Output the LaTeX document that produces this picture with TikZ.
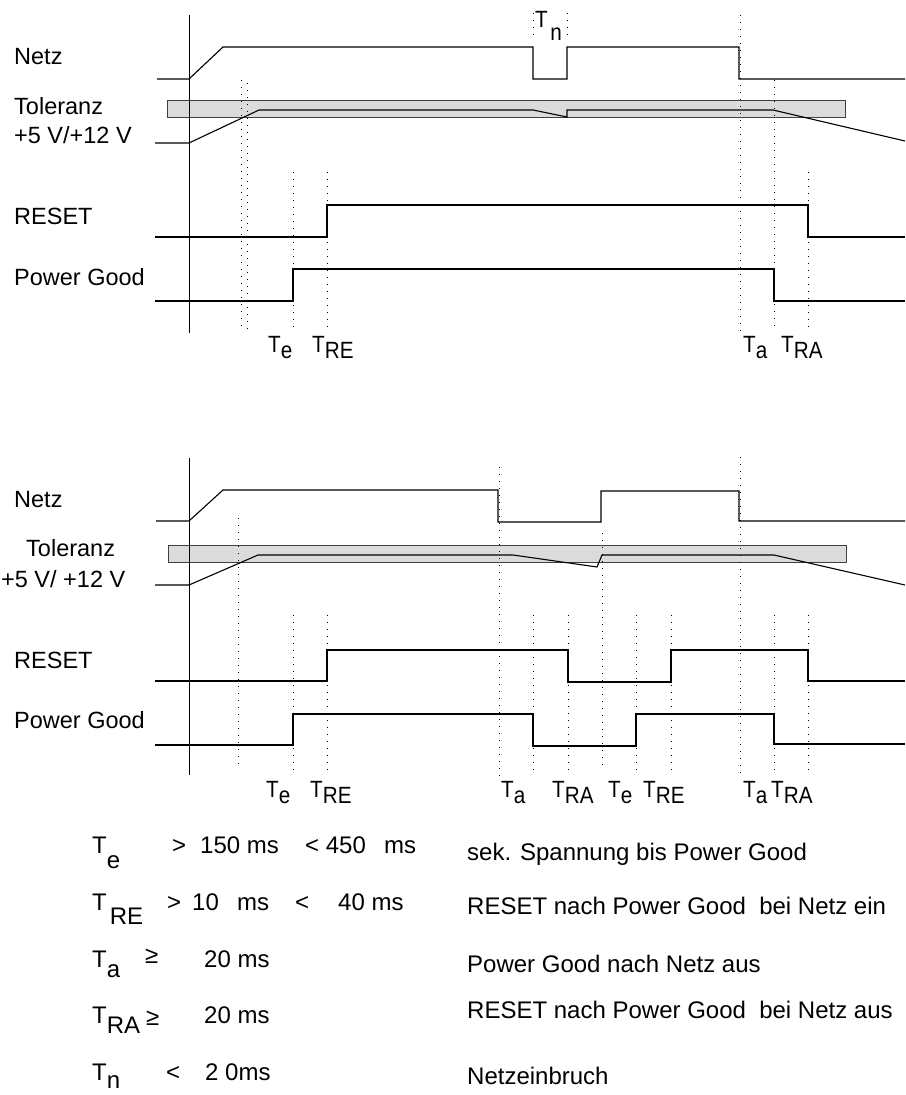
\documentclass[tikz,border=0pt]{standalone}
\usepackage{fontspec}
\setmainfont{Liberation Sans}
\usetikzlibrary{fit}
\newcommand\lowsub[2]{\raisebox{-#1pt}{#2}}
\newcommand\narrowtxt[1]{\scalebox{0.88}[1]{#1}}
\tikzset{
 sig/.style={line width=1.1pt, line join=miter},
 dotv/.style={line width=1pt, dash pattern=on 1pt off 6pt},
 band/.style={fill=black!14, draw=black!75, line width=0.9pt},
 lbl/.style={anchor=base west, inner sep=0pt, font=\fontsize{23.5}{28}\selectfont},
 tl/.style={anchor=base west, inner sep=0pt, font=\fontsize{23.5}{28}\selectfont},
 tab/.style={anchor=base west, inner sep=0pt, font=\fontsize{24}{28}\selectfont},
}
\begin{document}
\begin{tikzpicture}[x=1pt,y=-1pt]
\useasboundingbox (0,0) rectangle (905,1095);

% ================= TOP DIAGRAM =================
\node[band, inner sep=0pt, fit={(167,100)(845,117)}] (bandA) {};
% axis
\coordinate (axAt) at (189,15); \coordinate (axAb) at (189,333);
\draw[line width=0.9pt] (axAt) -- (axAb);
% dotted verticals
\foreach \x/\a/\b [count=\i] in {241/80/330, 247/83/333, 293/172/330, 327/172/330, 533/13/40, 567/13/40, 740/15/332, 774/80/326, 808/172/330}
  {\coordinate (dA\i t) at (\x,\a); \coordinate (dA\i b) at (\x,\b); \draw[dotv] (dA\i t) -- (dA\i b);}
% Netz
\draw[sig] (157,79) -- (189,79) -- (223,47) -- (533,47) -- (533,79) -- (567,79) -- (567,47) -- (739,47) -- (739,79) -- (905,79);
% voltage
\draw[sig] (155,143) -- (189,143) -- (259,110) -- (533,110) -- (567,117) -- (567,110) -- (773,110) -- (905,141);
% RESET
\draw[sig] (155,237) -- (327,237) -- (327,205) -- (808,205) -- (808,237) -- (905,237);
% Power Good
\draw[sig] (155,301) -- (293,301) -- (293,269) -- (774,269) -- (774,301) -- (905,301);
% labels
\node[lbl] (nA1) at (14,64) {Netz};
\node[lbl] (nA2) at (14,114) {Toleranz};
\node[lbl] (nA3) at (14,143) {+5 V/+12 V};
\node[lbl] (nA4) at (14,224) {RESET};
\node[lbl] (nA5) at (14,285) {Power Good};
\node[tl] (tn) at (535,27) {\narrowtxt{T\hspace{3pt}\lowsub{13}{n}}};
\node[tl] (tA1) at (268,352) {\narrowtxt{T\lowsub{6}{e}}};
\node[tl] (tA2) at (312,352) {\narrowtxt{T\lowsub{6}{RE}}};
\node[tl] (tA3) at (743,352) {\narrowtxt{T\lowsub{6}{a}}};
\node[tl] (tA4) at (781,352) {\narrowtxt{T\lowsub{6}{RA}}};

% ================= BOTTOM DIAGRAM =================
\node[band, inner sep=0pt, fit={(168,545)(846,562)}] (bandB) {};
\coordinate (axBt) at (189,458); \coordinate (axBb) at (189,775);
\draw[line width=0.9pt] (axBt) -- (axBb);
\foreach \x/\a/\b [count=\i] in {238/518/766, 293/615/775, 327/615/775, 499/467/776, 533/615/775, 568/615/775, 602/533/771, 636/615/775, 671/615/775, 740/457/775, 774/615/775, 808/615/775}
  {\coordinate (dB\i t) at (\x,\a); \coordinate (dB\i b) at (\x,\b); \draw[dotv] (dB\i t) -- (dB\i b);}
% Netz
\draw[sig] (156,521) -- (189,521) -- (223,490) -- (498,490) -- (498,522) -- (601,522) -- (601,491) -- (739,491) -- (739,521) -- (905,521);
% voltage
\draw[sig] (155,585) -- (189,585) -- (258,555) -- (513,555) -- (597,567) -- (602,555) -- (774,555) -- (905,585);
% RESET
\draw[sig] (155,681) -- (327,681) -- (327,650) -- (568,650) -- (568,682) -- (671,682) -- (671,650) -- (808,650) -- (808,681) -- (905,681);
% Power Good
\draw[sig] (155,745) -- (293,745) -- (293,714) -- (533,714) -- (533,746) -- (636,746) -- (636,714) -- (774,714) -- (774,744) -- (905,744);
% labels
\node[lbl] (nB1) at (14,507) {Netz};
\node[lbl] (nB2) at (26,556) {Toleranz};
\node[lbl] (nB3) at (1,587) {+5 V/ +12 V};
\node[lbl] (nB4) at (14,668) {RESET};
\node[lbl] (nB5) at (14,728) {Power Good};
\node[tl] (tB1) at (266,797) {\narrowtxt{T\lowsub{6}{e}}};
\node[tl] (tB2) at (310,797) {\narrowtxt{T\lowsub{6}{RE}}};
\node[tl] (tB3) at (501,797) {\narrowtxt{T\lowsub{6}{a}}};
\node[tl] (tB4) at (552,797) {\narrowtxt{T\lowsub{6}{RA}}};
\node[tl] (tB5) at (608,797) {\narrowtxt{T\lowsub{6}{e}}};
\node[tl] (tB6) at (643,797) {\narrowtxt{T\lowsub{6}{RE}}};
\node[tl] (tB7) at (743,797) {\narrowtxt{T\lowsub{6}{a}}};
\node[tl] (tB8) at (771,797) {\narrowtxt{T\lowsub{6}{RA}}};

% ================= TABLE =================
\node[tab] (r1a) at (92,853) {T\lowsub{15}{e}};
\node[tab] (r1b) at (172,853) {>};
\node[tab] (r1c) at (200,853) {150 ms};
\node[tab] (r1d) at (305,853) {< 450};
\node[tab] (r1e) at (384,853) {ms};
\node[tab] (r1f) at (467,860) {sek. Spannung bis Power Good};

\node[tab] (r2a) at (92,910) {T\hspace{3pt}\lowsub{14}{RE}};
\node[tab] (r2b) at (167,910) {>};
\node[tab] (r2c) at (192,910) {10};
\node[tab] (r2d) at (237,910) {ms};
\node[tab] (r2e) at (295,910) {<};
\node[tab] (r2f) at (338,910) {40 ms};
\node[tab] (r2g) at (467,914) {RESET nach Power Good\ \ bei Netz ein};

\node[tab] (r3a) at (92,967) {T\lowsub{10}{a}};
\node[tab] (r3b) at (145,963) {≥};
\node[tab] (r3c) at (204,967) {20 ms};
\node[tab] (r3d) at (467,972) {Power Good nach Netz aus};

\node[tab] (r4a) at (92,1023) {T\lowsub{10}{RA}};
\node[tab] (r4b) at (146,1025) {≥};
\node[tab] (r4c) at (204,1023) {20 ms};
\node[tab] (r4d) at (467,1018) {RESET nach Power Good\ \ bei Netz aus};

\node[tab] (r5a) at (92,1080) {T\lowsub{8}{n}};
\node[tab] (r5b) at (166,1080) {<};
\node[tab] (r5c) at (205,1080) {2 0ms};
\node[tab] (r5d) at (467,1084) {Netzeinbruch};
\end{tikzpicture}
\end{document}
